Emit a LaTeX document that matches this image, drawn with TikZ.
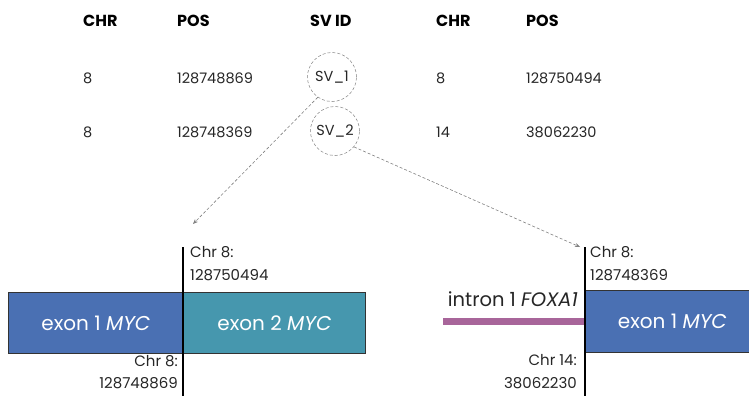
\documentclass[tikz,border=0pt]{standalone}
\usepackage{fontspec}
\setmainfont{Poppins}
\usetikzlibrary{arrows.meta}
\definecolor{exblue}{HTML}{4A70B3}
\definecolor{exteal}{HTML}{4697AE}
\definecolor{intpur}{HTML}{A8659A}
\definecolor{dashgray}{HTML}{808080}
\tikzset{
  hdr/.style={anchor=base west, font=\fontsize{16}{18}\selectfont\bfseries, inner sep=0pt},
  cell/.style={anchor=base west, font=\fontsize{14.5}{16}\selectfont, inner sep=0pt, text=black!85},
  svc/.style={circle, draw=dashgray, densely dashed, line width=0.5pt, minimum size=49pt, inner sep=0pt, font=\fontsize{14.5}{16}\selectfont, text=black!85},
  link/.style={draw=dashgray, densely dashed, line width=0.6pt, -{Stealth[length=5pt,width=4pt]}},
  exbox/.style={draw=black!80, line width=0.8pt, inner sep=0pt, font=\fontsize{20}{22}\selectfont, text=white},
  brk/.style={line width=2pt, black},
  poslbl/.style={font=\fontsize{15}{17}\selectfont, inner sep=0pt, text=black!85},
}
\begin{document}
\begin{tikzpicture}[x=1pt,y=-1pt]
\useasboundingbox (0,0) rectangle (749,396);
% table headers
\node[hdr] (h1) at (83,27) {CHR};
\node[hdr] (h2) at (177,27) {POS};
\node[hdr] (h3) at (310,27) {SV ID};
\node[hdr] (h4) at (436,27) {CHR};
\node[hdr] (h5) at (526,27) {POS};
% row 1
\node[cell] (r1a) at (83,83) {8};
\node[cell] (r1b) at (177,83) {128748869};
\node[svc] (sv1) at (332,77) {SV\_1};
\node[cell] (r1d) at (436,83) {8};
\node[cell] (r1e) at (526,83) {128750494};
% row 2
\node[cell] (r2a) at (83,137) {8};
\node[cell] (r2b) at (177,137) {128748369};
\node[svc] (sv2) at (335,131) {SV\_2};
\node[cell] (r2d) at (436,137) {14};
\node[cell] (r2e) at (526,137) {38062230};
% left fusion
\node[exbox, fill=exblue, minimum width=175pt, minimum height=61pt, anchor=north west] (e1) at (8,292) {exon 1 \textit{MYC}};
\node[exbox, fill=exteal, minimum width=182pt, minimum height=61pt, anchor=north west] (e2) at (183,292) {exon 2 \textit{MYC}};
\coordinate (b1top) at (183,247);
\coordinate (b1bot) at (183,396);
\draw[brk] (b1top) -- (b1bot);
\node[poslbl, anchor=base west] (l1u) at (190,257) {Chr 8:};
\node[poslbl, anchor=base west] (l1u2) at (190,280) {128750494};
\node[poslbl, anchor=base east] (l1d) at (178,366) {Chr 8:};
\node[poslbl, anchor=base east] (l1d2) at (178,388) {128748869};
% right fusion
\node[exbox, fill=exblue, minimum width=174pt, minimum height=62pt, anchor=north west] (e3) at (585,290) {exon 1 \textit{MYC}};
\coordinate (pl) at (443,321);
\coordinate (pr) at (585,321);
\draw[line width=7pt, intpur] (pl) -- (pr);
\coordinate (b2top) at (585,247);
\coordinate (b2bot) at (585,396);
\draw[brk] (b2top) -- (b2bot);
\node[anchor=base east, inner sep=0pt, font=\fontsize{19.5}{22}\selectfont, text=black!85] (intr) at (578,306) {intron 1 \textit{FOXA1}};
\node[poslbl, anchor=base west] (l2u) at (590,257) {Chr 8:};
\node[poslbl, anchor=base west] (l2u2) at (590,280) {128748369};
\node[poslbl, anchor=base east] (l2d) at (577,365) {Chr 14:};
\node[poslbl, anchor=base east] (l2d2) at (577,388) {38062230};
% links
\coordinate (t1) at (193,224);
\coordinate (t2) at (580,247);
\draw[link] (sv1.235) -- (t1);
\draw[link] (sv2.-40) -- (t2);
\end{tikzpicture}
\end{document}
